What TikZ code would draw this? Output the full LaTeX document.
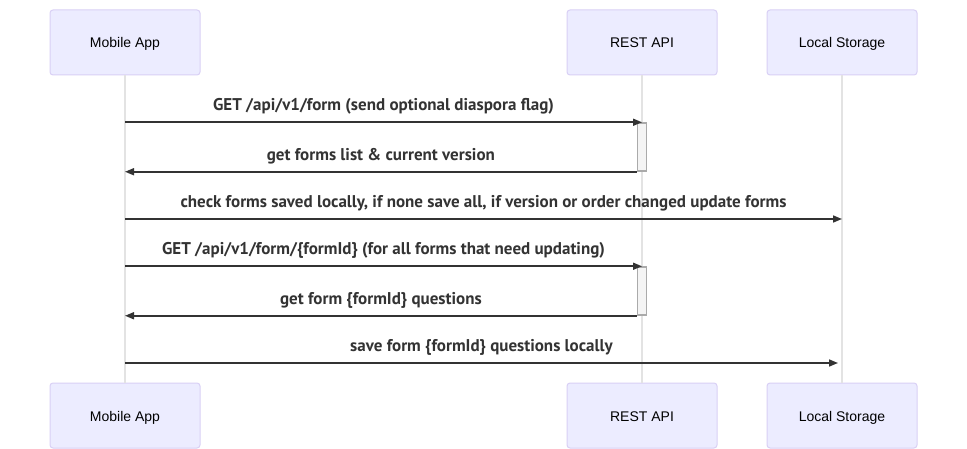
\documentclass[tikz,border=0pt]{standalone}
\usepackage{fontspec}
\setmainfont{Liberation Sans}
\newfontfamily\msgfont{PT Sans}
\usetikzlibrary{arrows.meta}
\definecolor{actorfill}{HTML}{ECECFF}
\definecolor{actorborder}{HTML}{D9D0F5}
\definecolor{lifecol}{HTML}{E3E3E3}
\definecolor{msgcol}{HTML}{333333}
\definecolor{actfill}{HTML}{F4F4F4}
\definecolor{actborder}{HTML}{AAAAAA}
\begin{document}
\begin{tikzpicture}[x=1pt,y=-1pt,
  actor/.style={draw=actorborder, fill=actorfill, rounded corners=3pt, line width=1pt,
    minimum width=150pt, minimum height=65pt, inner sep=0pt, text height=12pt, text depth=1pt,
    font=\fontsize{14}{16}\selectfont},
  life/.style={draw=lifecol, line width=1.5pt},
  actbox/.style={draw=actborder, fill=actfill, line width=1.5pt, minimum width=9pt, minimum height=48pt, inner sep=0pt},
  msg/.style={draw=msgcol, line width=1.6pt, -{Triangle[length=9pt,width=7pt]}},
  lbl/.style={font=\msgfont\bfseries\fontsize{17}{20}\selectfont, text=msgcol, inner sep=0pt}]
\useasboundingbox (0,0) rectangle (967,449);
\fill[white] (0,0) rectangle (967,449);
% actors
\node[actor] (ma) at (125,42.5) {Mobile App};
\node[actor] (ra) at (642,42.5) {REST API};
\node[actor] (ls) at (842,42.5) {Local Storage};
\node[actor] (mab) at (125,415.5) {Mobile App};
\node[actor] (rab) at (642,415.5) {REST API};
\node[actor] (lsb) at (842,415.5) {Local Storage};
% lifelines
\draw[life] (ma.south) -- (mab.north);
\draw[life] (ra.south) -- (rab.north);
\draw[life] (ls.south) -- (lsb.north);
% activations
\node[actbox] (a1) at (642,147) {};
\node[actbox] (a2) at (642,291) {};
% message rows
\coordinate (r3) at (0,219);
\coordinate (r6) at (0,363);
\coordinate (e6) at (838,363);
% messages
\draw[msg] (ma |- a1.north) -- node[lbl, above=7pt] (t1) {GET /api/v1/form (send optional diaspora flag)} (ra |- a1.north);
\draw[msg] (a1.south west) -- node[lbl, above=7pt] (t2) {get forms list \& current version} (ma |- a1.south);
\draw[msg] (ma |- r3) -- node[lbl, above=7pt] (t3) {check forms saved locally, if none save all, if version or order changed update forms} (ls |- r3);
\draw[msg] (ma |- a2.north) -- node[lbl, above=7pt] (t4) {GET /api/v1/form/\{formId\} (for all forms that need updating)} (ra |- a2.north);
\draw[msg] (a2.south west) -- node[lbl, above=7pt] (t5) {get form \{formId\} questions} (ma |- a2.south);
\draw[msg] (ma |- r6) -- node[lbl, above=7pt] (t6) {save form \{formId\} questions locally} (e6);
\end{tikzpicture}
\end{document}
